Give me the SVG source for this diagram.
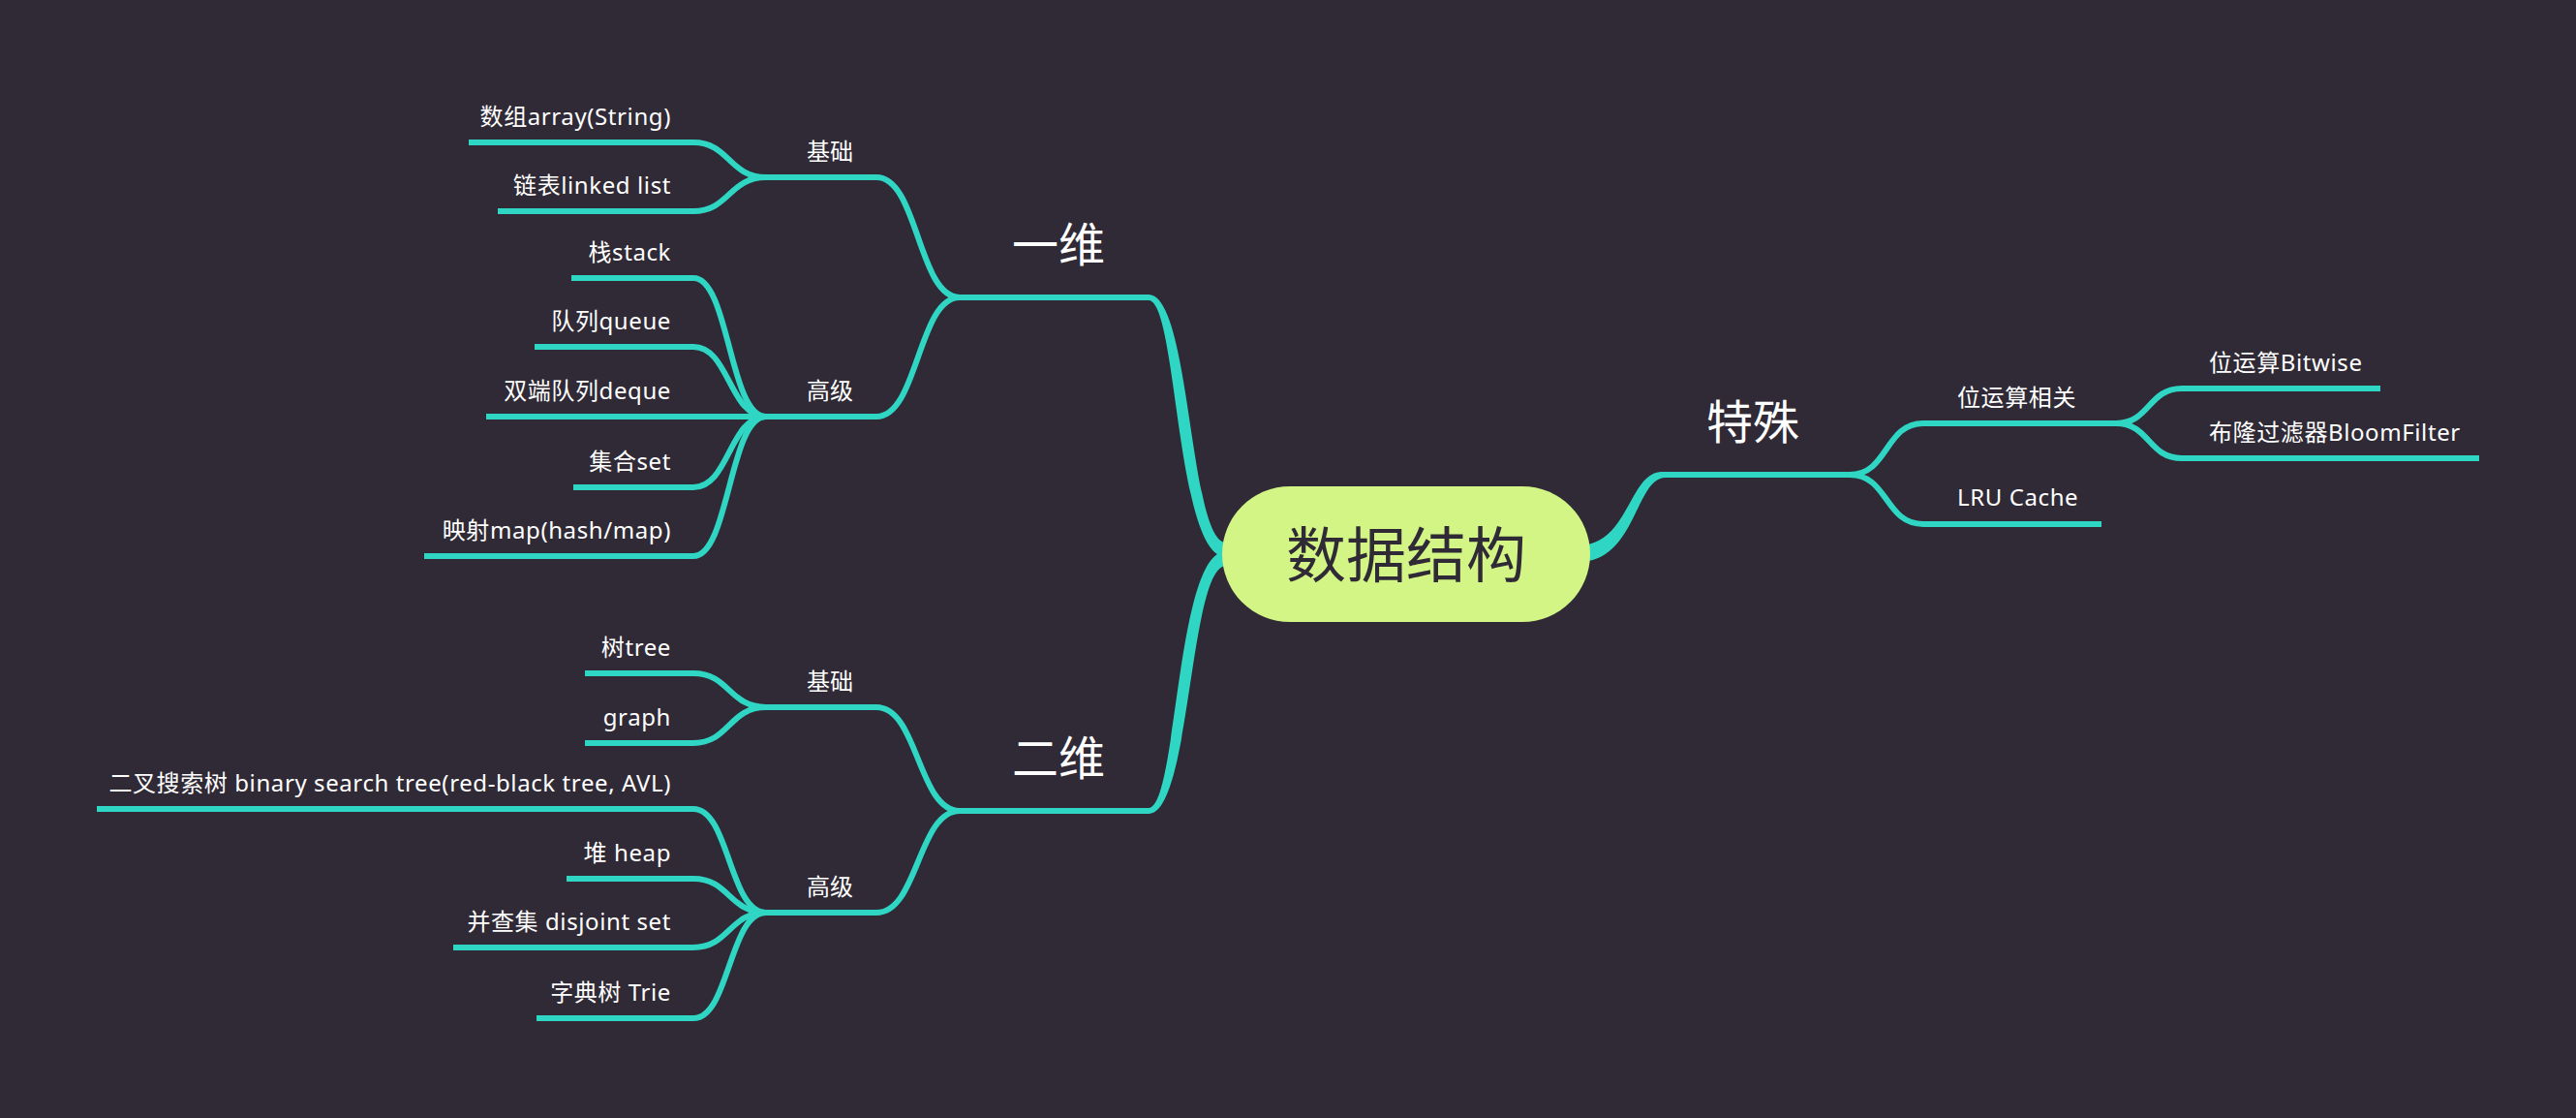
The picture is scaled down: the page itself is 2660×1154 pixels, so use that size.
<svg xmlns="http://www.w3.org/2000/svg" width="2660" height="1154" viewBox="0 0 2660 1154">
<style>
.c{fill:none;stroke:#2fd6c3;stroke-width:6;stroke-linecap:butt}
.t{fill:#2fd6c3;stroke:none}
text{font-family:"Noto Sans","Noto Sans CJK SC",sans-serif;fill:#ffffff}
.l{font-size:24px;text-anchor:end;letter-spacing:0.6px}
.r{font-size:24px;text-anchor:start;letter-spacing:0.6px}
.m{font-size:24px;text-anchor:middle}
.b{font-size:48px;text-anchor:middle}
</style>
<rect x="0" y="0" width="2660" height="1154" fill="#2f2a35"/>
<g id="connectors">
  <!-- main tapered branches -->
  <path class="t" d="M1186,304 C1230,304 1228,560 1266,560 L1266,575 C1214,575 1216,310 1186,310 Z"/>
  <path class="t" d="M1186,840 C1230,840 1228,584 1266,584 L1266,569 C1214,569 1216,834 1186,834 Z"/>
  <path class="t" d="M1630,563 C1682,563 1682,487 1716,487 L1720,493 C1688,493 1690,580 1630,580 Z"/>
  <path class="c" d="M990,307 H1187"/>
  <path class="c" d="M990,837 H1187"/>
  <path class="c" d="M1714,490 H1912"/>
  <!-- 一维 sub-branches -->
  <path class="c" d="M790,183 H905 C948,183 948,307 991,307"/>
  <path class="c" d="M790,430 H905 C948,430 948,307 991,307"/>
  <!-- 二维 sub-branches -->
  <path class="c" d="M790,730 H905 C948,730 948,837 991,837"/>
  <path class="c" d="M790,942 H905 C948,942 948,837 991,837"/>
  <!-- 一维 基础 leaves -->
  <path class="c" d="M484,147 H716 C753,147 753,183 791,183"/>
  <path class="c" d="M514,218 H716 C753,218 753,183 791,183"/>
  <!-- 一维 高级 leaves -->
  <path class="c" d="M590,287 H716 C753,287 753,430 791,430"/>
  <path class="c" d="M552,358 H716 C753,358 753,430 791,430"/>
  <path class="c" d="M502,430 H791"/>
  <path class="c" d="M592,503 H716 C753,503 753,430 791,430"/>
  <path class="c" d="M438,574 H716 C753,574 753,430 791,430"/>
  <!-- 二维 基础 leaves -->
  <path class="c" d="M604,695 H716 C753,695 753,730 791,730"/>
  <path class="c" d="M604,767 H716 C753,767 753,730 791,730"/>
  <!-- 二维 高级 leaves -->
  <path class="c" d="M100,835 H716 C753,835 753,942 791,942"/>
  <path class="c" d="M585,907 H716 C753,907 753,942 791,942"/>
  <path class="c" d="M468,978 H716 C753,978 753,942 791,942"/>
  <path class="c" d="M554,1051 H716 C753,1051 753,942 791,942"/>
  <!-- 特殊 -->
  <path class="c" d="M1910,490 C1950,490 1946,437 1986,437 H2187"/>
  <path class="c" d="M1910,490 C1950,490 1946,541 1986,541 H2170"/>
  <path class="c" d="M2185,437 C2220,437 2218,401 2253,401 H2458"/>
  <path class="c" d="M2185,437 C2220,437 2218,473 2253,473 H2560"/>
</g>
<g id="root">
  <rect x="1262" y="502" width="380" height="140" rx="70" ry="70" fill="#d2f585"/>
  <text x="1452" y="596" style="font-size:62px;text-anchor:middle;fill:#2f2a35">数据结构</text>
</g>
<g id="n-yiwei"><text class="b" x="1093" y="270">一维</text></g>
<g id="n-erwei"><text class="b" x="1093" y="800">二维</text></g>
<g id="n-teshu"><text class="b" x="1810" y="453">特殊</text></g>
<g id="n-jichu1"><text class="m" x="857" y="165">基础</text></g>
<g id="n-gaoji1"><text class="m" x="857" y="412">高级</text></g>
<g id="n-jichu2"><text class="m" x="857" y="712">基础</text></g>
<g id="n-gaoji2"><text class="m" x="857" y="924">高级</text></g>
<g id="n-array"><text class="l" x="693" y="129">数组array(String)</text></g>
<g id="n-linked"><text class="l" x="693" y="200">链表linked list</text></g>
<g id="n-stack"><text class="l" x="693" y="269">栈stack</text></g>
<g id="n-queue"><text class="l" x="693" y="340">队列queue</text></g>
<g id="n-deque"><text class="l" x="693" y="412">双端队列deque</text></g>
<g id="n-set"><text class="l" x="693" y="485">集合set</text></g>
<g id="n-map"><text class="l" x="693" y="556">映射map(hash/map)</text></g>
<g id="n-tree"><text class="l" x="693" y="677">树tree</text></g>
<g id="n-graph"><text class="l" x="693" y="749">graph</text></g>
<g id="n-bst"><text class="l" x="693" y="817">二叉搜索树 binary search tree(red-black tree, AVL)</text></g>
<g id="n-heap"><text class="l" x="693" y="889">堆 heap</text></g>
<g id="n-dsu"><text class="l" x="693" y="960">并查集 disjoint set</text></g>
<g id="n-trie"><text class="l" x="693" y="1033">字典树 Trie</text></g>
<g id="n-bitrel"><text class="r" x="2021" y="419">位运算相关</text></g>
<g id="n-lru"><text class="r" x="2021" y="522">LRU Cache</text></g>
<g id="n-bitwise"><text class="r" x="2281" y="383">位运算Bitwise</text></g>
<g id="n-bloom"><text class="r" x="2281" y="455">布隆过滤器BloomFilter</text></g>
</svg>
